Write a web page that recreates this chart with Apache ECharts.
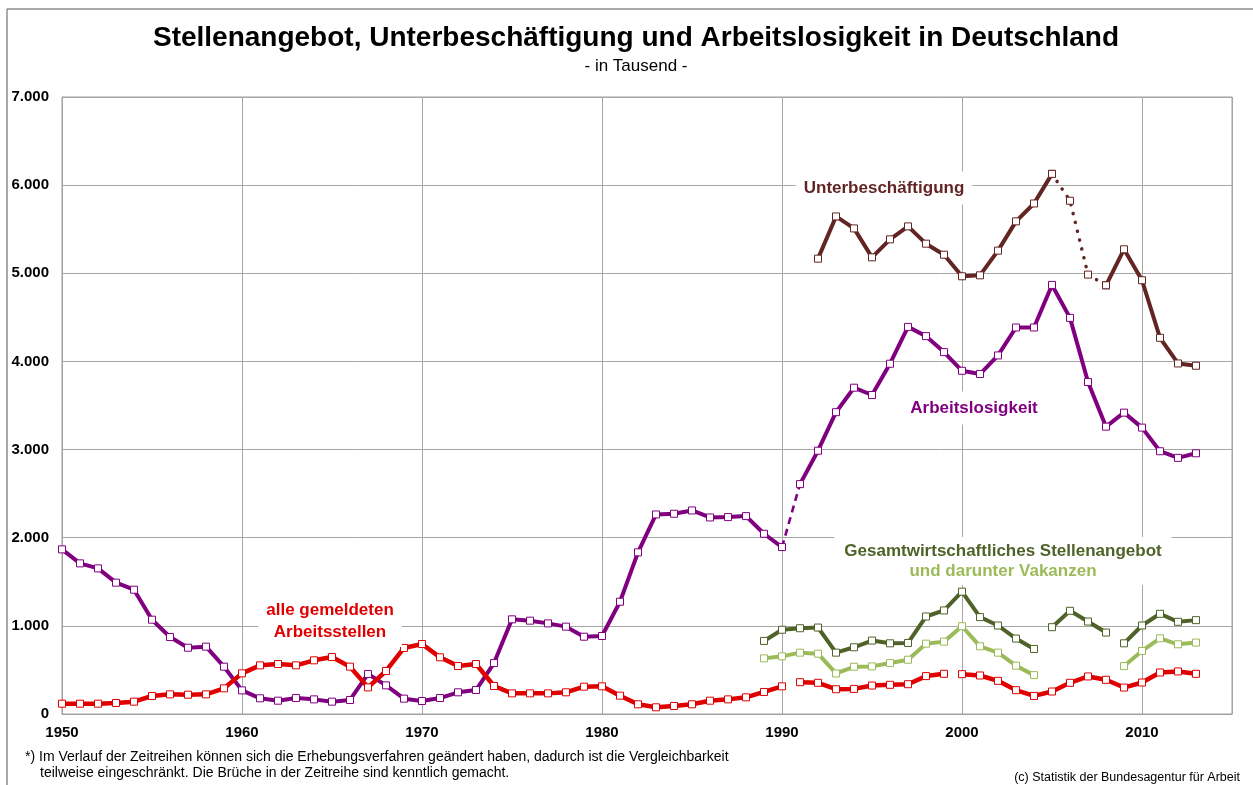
<!DOCTYPE html>
<html>
<head>
<meta charset="utf-8">
<script src="https://cdn.jsdelivr.net/npm/echarts@6/dist/echarts.min.js"></script>
<style>
html,body{margin:0;padding:0;background:#fff;}
#chart{width:1253px;height:785px;}
</style>
</head>
<body>
<div id="chart"></div>
<script>
// ---- DATA (in Tausend) ----
const years = [];
for (let y = 1950; y <= 2013; y++) years.push(y);

// Arbeitslosigkeit 1950-2013
const arbeitslosigkeit = [
  1868,1709,1652,1490,1410,1070,873,752,764,537,
  268,178,151,181,166,140,159,454,325,174,
  147,181,246,272,578,1074,1059,1028,991,877,
  885,1274,1834,2264,2272,2309,2230,2234,2245,2045,
  1894,2608,2987,3424,3702,3619,3974,4392,4287,4106,
  3894,3857,4068,4385,4385,4868,4494,3766,3260,3419,
  3249,2981,2906,2958
];
// alle gemeldeten Arbeitsstellen 1950-2013
const gemeldeteStellen = [
  117,117,117,125,140,204,223,219,223,291,
  461,552,567,552,609,646,537,302,488,749,
  794,643,544,567,318,234,234,234,246,310,
  314,208,110,76,91,110,151,166,189,250,
  314,361,354,281,285,323,331,338,430,456,
  452,437,376,270,205,255,354,426,388,300,
  357,471,483,456
];
// Unterbeschäftigung 1992-2013
const unterYears = [1992,1993,1994,1995,1996,1997,1998,1999,2000,2001,2002,2003,2004,2005,2006,2007,2008,2009,2010,2011,2012,2013];
const unterbeschaeftigung = [5166,5645,5509,5181,5385,5532,5336,5211,4966,4977,5257,5589,5792,6128,5823,4985,4864,5272,4921,4268,3977,3951];
// Gesamtwirtschaftliches Stellenangebot 1989-2013 (null = keine Angabe)
const gesYears = [1989,1990,1991,1992,1993,1994,1995,1996,1997,1998,1999,2000,2001,2002,2003,2004,2005,2006,2007,2008,2009,2010,2011,2012,2013];
const stellenangebot = [829,956,973,981,696,757,833,802,806,1106,1175,1388,1099,1004,856,738,985,1171,1049,924,802,1004,1137,1046,1065];
const vakanzen = [631,654,696,684,460,536,540,578,616,798,821,996,768,696,548,441,null,null,null,null,544,715,859,791,810];

const yTicks = [0,1000,2000,3000,4000,5000,6000,7000];
const xTicks = [1950,1960,1970,1980,1990,2000,2010];

// ---- helpers ----
function seg(ys, vals, from, to) {
  const out = [];
  ys.forEach((y, i) => {
    if (y >= from && y <= to && vals[i] != null) out.push([y, vals[i]]);
  });
  return out;
}
const FONT = '"Liberation Sans", Arial, sans-serif';
const C = {
  purple: '#800080',
  red: '#E00000',
  brown: '#632523',
  dgreen: '#4F6228',
  lgreen: '#9BBB59'
};
function line(data, color, width, opts) {
  opts = opts || {};
  return {
    type: 'line',
    data: data,
    silent: true,
    animation: false,
    showSymbol: opts.symbol !== false,
    showAllSymbol: true,
    symbol: 'rect',
    symbolSize: 7,
    z: opts.z || 2,
    lineStyle: Object.assign({color: color, width: width}, opts.lineStyle || {}),
    itemStyle: {color: '#fff', borderColor: color, borderWidth: 1},
    emphasis: {disabled: true}
  };
}

const series = [
  // Arbeitslosigkeit
  line(seg(years, arbeitslosigkeit, 1990, 1991), C.purple, 2.6, {symbol: false, lineStyle: {type: [7, 5]}}),
  line(seg(years, arbeitslosigkeit, 1950, 1990), C.purple, 4),
  line(seg(years, arbeitslosigkeit, 1991, 2013), C.purple, 4),
  // gemeldete Stellen
  line(seg(years, gemeldeteStellen, 1950, 1990), C.red, 4.5, {z: 3}),
  line(seg(years, gemeldeteStellen, 1991, 1999), C.red, 4.5, {z: 3}),
  line(seg(years, gemeldeteStellen, 2000, 2013), C.red, 4.5, {z: 3}),
  // Unterbeschäftigung
  line(seg(unterYears, unterbeschaeftigung, 1992, 2005), C.brown, 4),
  line(seg(unterYears, unterbeschaeftigung, 2008, 2013), C.brown, 4),
  line(seg(unterYears, unterbeschaeftigung, 2005, 2008), C.brown, 3.5, {lineStyle: {type: [0.1, 9], cap: 'round'}}),
  // Stellenangebot
  line(seg(gesYears, stellenangebot, 1989, 2004), C.dgreen, 4),
  line(seg(gesYears, stellenangebot, 2005, 2008), C.dgreen, 4),
  line(seg(gesYears, stellenangebot, 2009, 2013), C.dgreen, 4),
  // Vakanzen
  line(seg(gesYears, vakanzen, 1989, 2004), C.lgreen, 4),
  line(seg(gesYears, vakanzen, 2009, 2013), C.lgreen, 4)
];

function label(text, x, y, color, extra) {
  return {
    type: 'text', x: x, y: y, z: 50, silent: true,
    style: Object.assign({
      text: text, fill: color, font: 'bold 17px ' + FONT,
      textAlign: 'center', textVerticalAlign: 'middle',
      backgroundColor: '#fff', padding: [6, 8]
    }, extra || {})
  };
}

const chart = echarts.init(document.getElementById('chart'), null, {renderer: 'canvas'});
chart.setOption({
  backgroundColor: '#fff',
  animation: false,
  grid: {left: 62, right: 21, top: 97, bottom: 71, show: true, borderColor: '#A0A0A0', borderWidth: 1, backgroundColor: 'transparent'},
  xAxis: {
    type: 'value', min: 1950, max: 2015, interval: 10,
    axisLine: {lineStyle: {color: '#A0A0A0', width: 1}},
    axisTick: {show: false},
    splitLine: {show: true, lineStyle: {color: '#A6A6A6', width: 1}},
    axisLabel: {
      margin: 11, color: '#000', fontWeight: 'bold', fontSize: 15, fontFamily: FONT,
      formatter: v => xTicks.indexOf(v) >= 0 ? String(v) : ''
    }
  },
  yAxis: {
    type: 'value', min: yTicks[0], max: yTicks[yTicks.length - 1], interval: 1000,
    axisLine: {show: true, lineStyle: {color: '#A0A0A0', width: 1}},
    axisTick: {show: false},
    splitLine: {show: true, lineStyle: {color: '#A6A6A6', width: 1}},
    axisLabel: {
      margin: 13, color: '#000', fontWeight: 'bold', fontSize: 15, fontFamily: FONT,
      formatter: v => v === 0 ? '0' : (v / 1000) + '.000'
    }
  },
  series: series,
  graphic: [
    {type: 'line', silent: true, z: 0, shape: {x1: 7, y1: 9, x2: 1253, y2: 9}, style: {stroke: '#8C8C8C', lineWidth: 1.5}},
    {type: 'line', silent: true, z: 0, shape: {x1: 7, y1: 9, x2: 7, y2: 785}, style: {stroke: '#8C8C8C', lineWidth: 1.5}},
    {type: 'text', x: 636, y: 38, silent: true, style: {text: 'Stellenangebot, Unterbeschäftigung und Arbeitslosigkeit in Deutschland', font: 'bold 28px ' + FONT, fill: '#000', textAlign: 'center', textVerticalAlign: 'middle'}},
    {type: 'text', x: 636, y: 66, silent: true, style: {text: '- in Tausend -', font: '17px ' + FONT, fill: '#000', textAlign: 'center', textVerticalAlign: 'middle'}},
    label('Unterbeschäftigung', 884, 188, C.brown, {padding: [8, 8]}),
    label('Arbeitslosigkeit', 974, 408, C.purple, {padding: [8, 8]}),
    label('alle gemeldeten\nArbeitsstellen', 330, 621, C.red, {lineHeight: 22, padding: [4, 8]}),
    label('Gesamtwirtschaftliches Stellenangebot\n', 1003, 561, C.dgreen, {lineHeight: 20, padding: [4, 10]}),
    label('und darunter Vakanzen', 1003, 571, C.lgreen, {backgroundColor: 'transparent', padding: 0}),
    {type: 'text', x: 25, y: 757, silent: true, style: {text: '*) Im Verlauf der Zeitreihen können sich die Erhebungsverfahren geändert haben, dadurch ist die Vergleichbarkeit', font: '14px ' + FONT, fill: '#000', textAlign: 'left', textVerticalAlign: 'middle'}},
    {type: 'text', x: 40, y: 773, silent: true, style: {text: 'teilweise eingeschränkt. Die Brüche in der Zeitreihe sind kenntlich gemacht.', font: '14px ' + FONT, fill: '#000', textAlign: 'left', textVerticalAlign: 'middle'}},
    {type: 'text', x: 1240, y: 778, silent: true, style: {text: '(c) Statistik der Bundesagentur für Arbeit', font: '12.5px ' + FONT, fill: '#000', textAlign: 'right', textVerticalAlign: 'middle'}}
  ]
});
</script>
</body>
</html>
